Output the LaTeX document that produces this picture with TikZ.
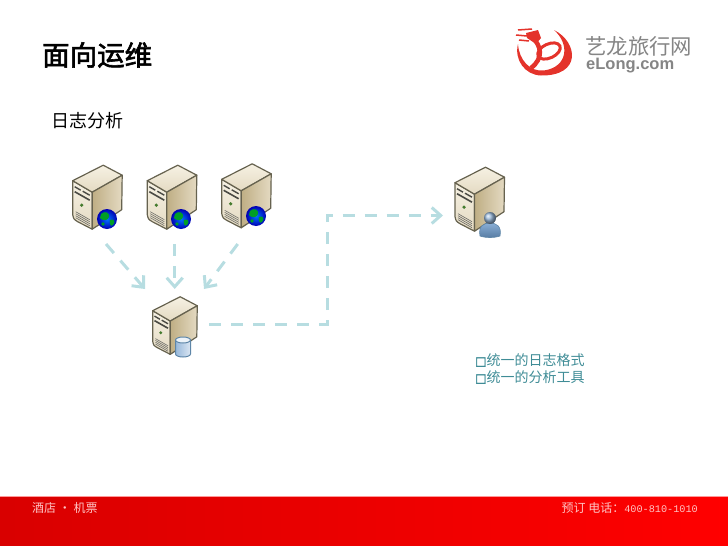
\documentclass[tikz,border=0pt]{standalone}
\usepackage{fontspec}
\setmainfont{Noto Sans CJK SC}
\newfontfamily\boldcjk[FakeBold=2.2]{Noto Sans CJK SC}
\newfontfamily\boxglyph[FakeBold=3]{DejaVu Sans}
\newfontfamily\phonefont{Liberation Mono}
\newfontfamily\logolatin{Liberation Sans}
\usetikzlibrary{arrows.meta,shadings}

\definecolor{flowTeal}{HTML}{B7DDE1}
\definecolor{noteTeal}{HTML}{3F8C96}
\definecolor{logoRed}{HTML}{E4332B}
\definecolor{logoGrey}{HTML}{858585}
\definecolor{caseEdge}{HTML}{66624F}
\definecolor{caseLight}{HTML}{F6F1E3}
\definecolor{caseMid}{HTML}{E4DAC2}
\definecolor{caseTan}{HTML}{BFAE84}
\definecolor{caseDark}{HTML}{4A4A44}
\definecolor{footPink}{HTML}{FFC4C4}
\definecolor{badgeBlue}{HTML}{6C9ACB}
\definecolor{badgeEdge}{HTML}{5E86A8}

\tikzset{
  flow/.style={draw=flowTeal, line width=3pt, dash pattern=on 12pt off 10pt, -{Straight Barb[length=9pt,width=16pt,line width=3pt]}},
  footer/.style={text=footPink, font=\fontsize{12}{12}\selectfont, inner sep=0pt},
  note/.style={text=noteTeal, font=\fontsize{14}{14}\selectfont, inner sep=0pt, anchor=west},
  servercase/.pic={
    \shade[top color=caseLight, bottom color=caseMid, draw=caseEdge, line width=1.2pt, line join=round]
      (0,0) -- (19.5,11.5) -- (19.5,48.5) -- (5,41) .. controls (1,38.5) .. (0,34) -- cycle;
    \shade[top color=caseLight, bottom color=caseMid, draw=caseEdge, line width=1.2pt, line join=round]
      (0,0) -- (30.5,-15.5) -- (49.5,-5.5) -- (19.5,11.5) -- cycle;
    \shade[left color=caseTan, right color=caseMid, draw=caseEdge, line width=1.2pt, line join=round]
      (19.5,11.5) -- (49.5,-5.5) -- (49,29) -- (19.5,48.5) -- cycle;
    % front panel
    \draw[caseDark, line width=1.4pt] (2,6) -- (8,9.5) (10,10.5) -- (17,14.5);
    \draw[caseDark, line width=1.6pt] (2,11) -- (17,19.5);
    \fill[caseTan!60!green!60!black] (9,24.5) circle (1.8);
    \foreach \slot in {31,33,35,37}
      \draw[caseDark!80, line width=.6pt] (3,\slot) -- (17,\slot+8);
  },
  globebadge/.pic={
    \shade[inner color=blue!55!cyan, outer color=blue!70!black] (0,0) circle (10);
    \fill[green!55!black!85!cyan] (-6,-5) .. controls (-2,-9) and (3,-6) .. (2,-2) .. controls (1,2) and (-5,2) .. (-7,-1) -- cycle;
    \fill[green!55!black!85!cyan] (3,1) .. controls (7,-1) and (9,3) .. (6,6) .. controls (4,8) and (2,5) .. (3,1) -- cycle;
    \fill[green!55!black!85!cyan] (-4,5) circle (1.8);
  },
  drumbadge/.pic={
    \shade[left color=badgeBlue!70!white, right color=badgeBlue!25!white, draw=badgeEdge, line width=1pt]
      (-7.5,-7) -- (-7.5,7) arc[start angle=180, end angle=360, x radius=7.5, y radius=-3] -- (7.5,-7) -- cycle;
    \fill[white!88!badgeBlue, draw=badgeEdge, line width=1pt] (0,-7) ellipse (7.5 and 3);
  },
  userbadge/.pic={
    \shade[top color=badgeBlue!80!white, bottom color=badgeBlue!80!black, draw=badgeEdge, line width=.6pt]
      (-10,11) .. controls (-12,1) and (-6,-2) .. (0,-2) .. controls (6,-2) and (12,1) .. (10,11) .. controls (5,13) and (-5,13) .. (-10,11) -- cycle;
    \shade[ball color=badgeBlue!70!white] (0,-7) circle (6);
  },
}

\begin{document}
\begin{tikzpicture}[x=1pt,y=-1pt]
  \useasboundingbox (0,0) rectangle (728,546);

  % footer band
  \shade[left color=red!85!black, right color=red] (0,497) rectangle (728,546);
  \draw[white!60!red, line width=1pt] (0,496.5) -- (728,496.5);
  \node[footer, anchor=west] (footLeft) at (32,508) {酒店 • 机票};
  \node[footer, anchor=east] (footRight) at (698,508) {预订 电话：{\phonefont\fontsize{10.2}{10}\selectfont 400-810-1010}};

  % titles
  \node[anchor=west, inner sep=0pt, font=\fontsize{27.5}{27.5}\boldcjk] (title) at (42,55) {面向运维};
  \node[anchor=west, inner sep=0pt, font=\fontsize{18}{18}\selectfont] (subtitle) at (51,121) {日志分析};

  % logo
  \fill[logoRed] (554,30) .. controls (578,42) and (582,76) .. (541,75.5)
    .. controls (525,75) and (514,60) .. (518,44)
    .. controls (519,60) and (530,72) .. (544,70.5)
    .. controls (568,67) and (570,44) .. (554,30) -- cycle;
  \draw[logoRed, line width=3pt, rotate around={25:(549,51)}] (549,51) ellipse (12 and 7);
  \draw[logoRed, line width=4.5pt] (533,38) .. controls (541,46) and (544,58) .. (531,68);
  \fill[logoRed] (526,33) -- (538,30) -- (541,38) -- (536,44) -- (527,38) -- cycle;
  \draw[logoRed, line width=1.5pt] (518,30) -- (532,29) (516,35) -- (527,36) (519,40) -- (529,41);
  \node[anchor=west, inner sep=0pt, text=logoGrey, font=\fontsize{21.4}{21.4}\selectfont] (logoCn) at (585,46) {艺龙旅行网};
  \node[anchor=west, inner sep=0pt, text=logoGrey, font=\fontsize{16.5}{16.5}\logolatin\bfseries] (logoEn) at (586,66) {eLong.com};

  % servers
  \pic at (72.7,180.7) {servercase};
  \pic at (107,219) {globebadge};
  \pic at (147.3,180.7) {servercase};
  \pic at (181,219) {globebadge};
  \pic at (221.7,179.3) {servercase};
  \pic at (256,216) {globebadge};
  \pic[scale=.9, transform shape] at (152.7,310.7) {servercase};
  \pic at (183,347) {drumbadge};
  \pic at (455,182.7) {servercase};
  \pic at (490,225) {userbadge};

  \coordinate (webOutA) at (106,244);
  \coordinate (webOutB) at (174.7,244);
  \coordinate (webOutC) at (237.7,244);
  \coordinate (logInA) at (145,289);
  \coordinate (logInB) at (174.7,289);
  \coordinate (logInC) at (204,289);
  \coordinate (logOut) at (209,324);
  \coordinate (bendLow) at (327,324);
  \coordinate (bendHigh) at (327,215.5);
  \coordinate (viewIn) at (443,215.5);

  \draw[flow] (webOutA) -- (logInA);
  \draw[flow] (webOutB) -- (logInB);
  \draw[flow] (webOutC) -- (logInC);
  \draw[flow] (logOut) -- (bendLow) -- (bendHigh) -- (viewIn);

  % notes
  \node[note] (noteA) at (475,360) {{\boxglyph\fontsize{12}{12}\selectfont □}统一的日志格式};
  \node[note] (noteB) at (475,377) {{\boxglyph\fontsize{12}{12}\selectfont □}统一的分析工具};
\end{tikzpicture}
\end{document}
